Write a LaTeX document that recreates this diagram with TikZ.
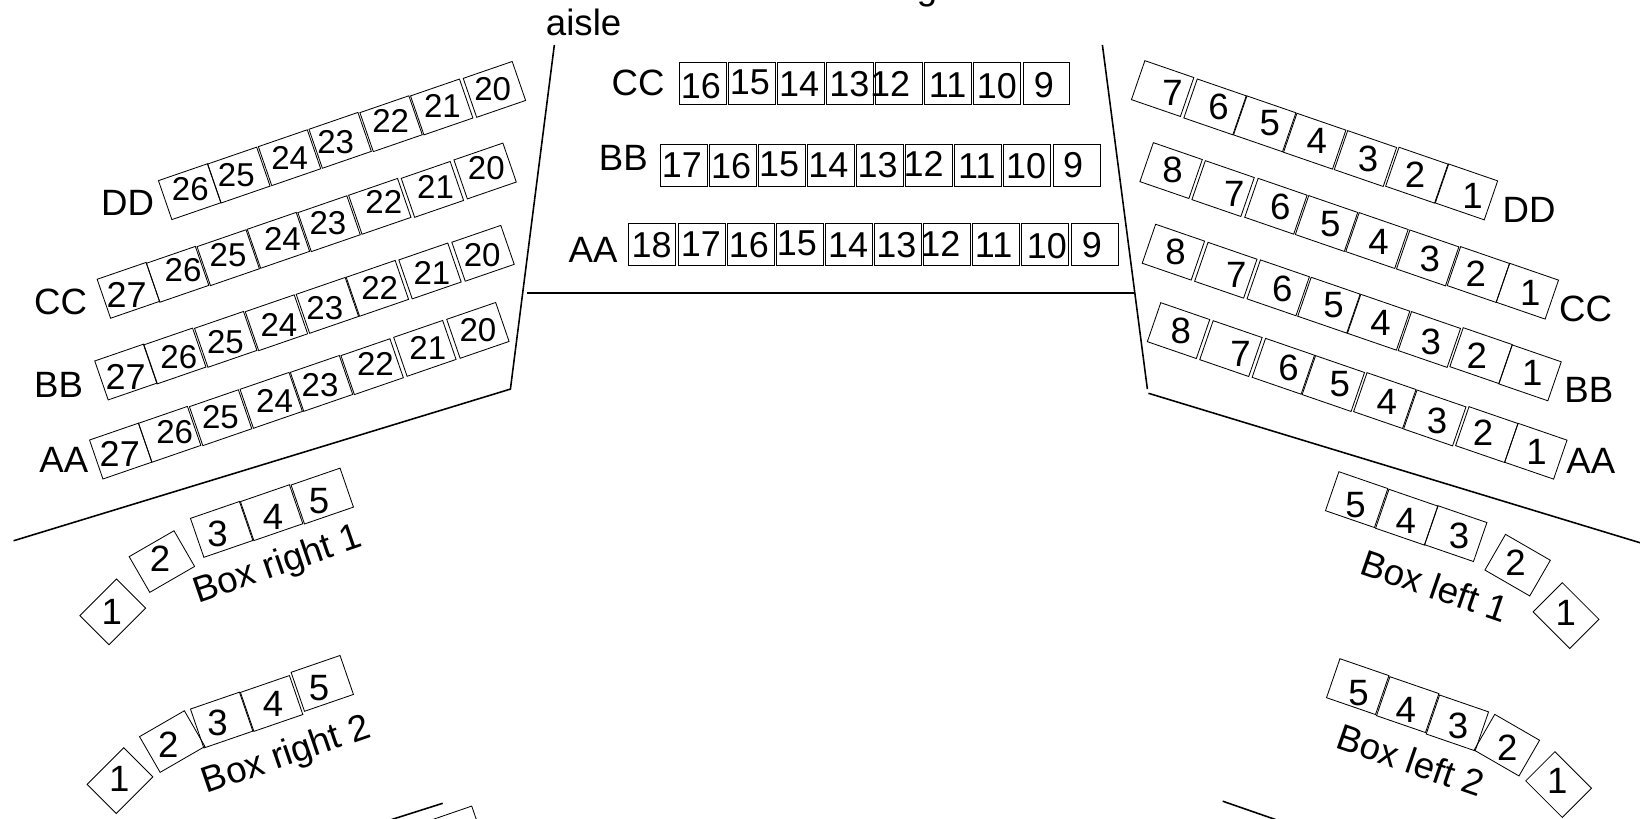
\documentclass[tikz,border=0pt]{standalone}
\usepackage{fontspec}
\setmainfont{Liberation Sans}
\def\numsize{17.2pt}
\tikzset{
  x=0.5pt,y=-0.5pt,
  seatbox/.style={draw=black,line width=0.4pt,minimum width=24.75pt,minimum height=19.7pt,inner sep=0pt,outer sep=0pt,anchor=north west},
  seatnum/.style={inner sep=0pt,font=\fontsize{\numsize}{18pt}\selectfont},
  rowlabel/.style={inner sep=0pt,font=\fontsize{17.5pt}{18pt}\selectfont},
  wall/.style={line width=0.75pt,draw=black},
}
% name, angle, x, y of top-left corner, label, label x, label y
\newcommand{\seatat}[7]{%
  \node[seatbox,rotate=#2] (#1) at (#3,#4) {};
  \node[seatnum] (#1t) at (#6,#7) {#5};
}
\begin{document}
\begin{tikzpicture}
\useasboundingbox (0,0) rectangle (1568,783);
\clip (0,0) rectangle (1568,783);
% walls
\coordinate (wa) at (530,43); \coordinate (wb) at (488,372); \coordinate (wc) at (13,517);
\draw[wall] (wa) -- (wb) -- (wc);
\coordinate (wd) at (1054,43); \coordinate (we) at (1097,372);
\draw[wall] (wd) -- (we);
\coordinate (wf) at (1098,376); \coordinate (wg) at (1570,519.5);
\draw[wall] (wf) -- (wg);
\coordinate (wh) at (504,280); \coordinate (wi) at (1084,280);
\draw[wall] (wh) -- (wi);
\coordinate (wj) at (423.3,768); \coordinate (wk) at (373,784);
\draw[wall] (wj) -- (wk);
\coordinate (wl) at (1169,766); \coordinate (wm) at (1222,784.4);
\draw[wall] (wl) -- (wm);
% clipped top heading and aisle
\node[rowlabel,anchor=base east] (head) at (896.5,-0.5) {Box seating};
\node[rowlabel] (aisle) at (558,21) {aisle};
% centre block
\node[rowlabel] (cCC) at (610,79) {CC};
\node[rowlabel] (cBB) at (596,151) {BB};
\node[rowlabel] (cAA) at (567,239) {AA};
\tikzset{seatbox/.append style={minimum width=22.45pt,minimum height=19.9pt}}
\seatat{cc16}{0}{649.6}{59.6}{16}{670}{82}
\seatat{cc15}{0}{696.4}{59.6}{15}{717}{79}
\seatat{cc14}{0}{743.2}{59.6}{14}{764}{80}
\seatat{cc13}{0}{790}{59.6}{13}{812}{80}
\seatat{cc12}{0}{836.8}{59.6}{12}{851}{80}
\seatat{cc11}{0}{883.6}{59.6}{11}{906}{81}
\seatat{cc10}{0}{930.4}{59.6}{10}{953}{82}
\seatat{cc9}{0}{978}{59.6}{9}{998}{81}
\seatat{bb17}{0}{631.3}{138}{17}{652}{158}
\seatat{bb16}{0}{678}{138}{16}{699}{159}
\seatat{bb15}{0}{725.3}{138}{15}{745}{157}
\seatat{bb14}{0}{772}{138}{14}{792}{158}
\seatat{bb13}{0}{818.9}{138}{13}{839}{158}
\seatat{bb12}{0}{865.7}{138}{12}{883}{157}
\seatat{bb11}{0}{912.5}{138}{11}{934}{159}
\seatat{bb10}{0}{959.7}{138}{10}{981}{159}
\seatat{bb9}{0}{1006.8}{138}{9}{1026}{158}
\seatat{aa18}{0}{600.9}{213.5}{18}{623}{234}
\seatat{aa17}{0}{648.4}{213.5}{17}{670}{233}
\seatat{aa16}{0}{695.2}{213.5}{16}{716}{234}
\seatat{aa15}{0}{742.4}{213.5}{15}{762}{233}
\seatat{aa14}{0}{789.2}{213.5}{14}{811}{234}
\seatat{aa13}{0}{836}{213.5}{13}{857}{234}
\seatat{aa12}{0}{882.8}{213.5}{12}{899}{233}
\seatat{aa11}{0}{929.6}{213.5}{11}{950}{234}
\seatat{aa10}{0}{976.8}{213.5}{10}{1001}{235}
\seatat{aa9}{0}{1024}{213.5}{9}{1044}{234}
\tikzset{seatbox/.append style={minimum width=24.75pt,minimum height=19.7pt}}
% left block
\def\numsize{15.8pt}
\node[rowlabel] (lDD) at (122,194) {DD};
\seatat{ld26}{19}{151.5}{172.7}{26}{182}{181}
\seatat{ld25}{19}{198.6}{156.8}{25}{226}{167}
\seatat{ld24}{19}{247}{140.2}{24}{277}{151}
\seatat{ld23}{19}{295.4}{123.6}{23}{321}{135.5}
\seatat{ld22}{19}{344.1}{107.7}{22}{373.5}{116}
\seatat{ld21}{19}{392.5}{91.7}{21}{423}{101}
\seatat{ld20}{19}{442.9}{74.9}{20}{471}{85}
\node[rowlabel] (lCC) at (58,289) {CC};
\def\numsize{17.2pt}
\seatat{lc27}{19}{92.9}{267}{27}{121}{282}
\def\numsize{15.8pt}
\seatat{lc26}{19}{140}{251.7}{26}{175}{258.5}
\seatat{lc25}{19}{188.4}{235.8}{25}{218}{244}
\seatat{lc24}{19}{236.4}{219.2}{24}{270}{228.5}
\seatat{lc23}{19}{284.8}{203.3}{23}{313.5}{213.5}
\seatat{lc22}{19}{333.3}{186.7}{22}{367}{193}
\seatat{lc21}{19}{383.6}{170.5}{21}{416.5}{179}
\seatat{lc20}{19}{434}{152.9}{20}{465}{161}
\node[rowlabel] (lBB) at (56,368) {BB};
\def\numsize{17.2pt}
\seatat{lb27}{19}{90.6}{345.1}{27}{120}{360}
\def\numsize{15.8pt}
\seatat{lb26}{19}{137.3}{329.8}{26}{171}{341}
\seatat{lb25}{19}{186}{313.9}{25}{215.5}{326.7}
\seatat{lb24}{19}{234.5}{298}{24}{266.7}{310.7}
\seatat{lb23}{19}{283.2}{281.4}{23}{310.5}{295}
\seatat{lb22}{19}{331}{265.1}{22}{363}{275.5}
\seatat{lb21}{19}{381.3}{248.5}{21}{413}{261}
\seatat{lb20}{19}{432}{231.6}{20}{461}{243.5}
\node[rowlabel] (lAA) at (61,440) {AA};
\def\numsize{17.2pt}
\seatat{la27}{19}{85.6}{420.7}{27}{114.5}{434}
\def\numsize{15.8pt}
\seatat{la26}{19}{132.4}{404.7}{26}{167}{412.7}
\seatat{la25}{19}{181.1}{388.8}{25}{210.8}{398.5}
\seatat{la24}{19}{229.5}{372.2}{24}{262.5}{383}
\seatat{la23}{19}{277.6}{356}{23}{306}{368}
\seatat{la22}{19}{326}{340}{22}{359}{348}
\seatat{la21}{19}{376.4}{322.5}{21}{409}{333}
\seatat{la20}{19}{427.1}{305.3}{20}{457}{316}
% right block
\def\numsize{17.5pt}
\node[rowlabel] (rDD) at (1462,201) {DD};
\seatat{rd7}{-19}{1094.6}{58}{7}{1121}{89}
\seatat{rd6}{-19}{1144.7}{75.5}{6}{1165}{102}
\seatat{rd5}{-19}{1192.2}{91.7}{5}{1214}{118}
\seatat{rd4}{-19}{1240}{108.3}{4}{1259}{135}
\seatat{rd3}{-19}{1288.5}{124.9}{3}{1308}{152}
\seatat{rd2}{-19}{1337.6}{140.8}{2}{1353}{167}
\seatat{rd1}{-19}{1385.1}{156.8}{1}{1408}{187}
\node[rowlabel] (rCC) at (1516,295) {CC};
\seatat{rc8}{-19}{1102.7}{136.4}{8}{1121}{162}
\seatat{rc7}{-19}{1152.4}{153.6}{7}{1180}{185}
\seatat{rc6}{-19}{1202.9}{170.5}{6}{1224}{198}
\seatat{rc5}{-19}{1251.3}{187}{5}{1272}{214}
\seatat{rc4}{-19}{1299.5}{203.3}{4}{1318}{231}
\seatat{rc3}{-19}{1348}{219.9}{3}{1367}{248}
\seatat{rc2}{-19}{1396.5}{235.8}{2}{1411}{262}
\seatat{rc1}{-19}{1443.3}{251.7}{1}{1463}{280}
\node[rowlabel] (rBB) at (1519,373) {BB};
\seatat{rb8}{-19}{1104.9}{214.4}{8}{1124}{241}
\seatat{rb7}{-19}{1155}{231.7}{7}{1182}{263}
\seatat{rb6}{-19}{1205.1}{248.5}{6}{1226}{276}
\seatat{rb5}{-19}{1253.6}{265.1}{5}{1275}{292}
\seatat{rb4}{-19}{1301.1}{281.4}{4}{1320}{309}
\seatat{rb3}{-19}{1349.6}{297.9}{3}{1368}{327}
\seatat{rb2}{-19}{1399}{313.3}{2}{1412}{340}
\seatat{rb1}{-19}{1445.9}{329.8}{1}{1465}{357}
\node[rowlabel] (rAA) at (1521,441) {AA};
\seatat{ra8}{-19}{1109.8}{289.4}{8}{1129}{316}
\seatat{ra7}{-19}{1159.9}{306.6}{7}{1186}{338}
\seatat{ra6}{-19}{1210}{323.5}{6}{1232}{352}
\seatat{ra5}{-19}{1257.8}{340}{5}{1281}{367}
\seatat{ra4}{-19}{1307}{356.3}{4}{1326}{384}
\seatat{ra3}{-19}{1354.8}{372.9}{3}{1374}{402}
\seatat{ra2}{-19}{1404.5}{388.8}{2}{1418}{414}
\seatat{ra1}{-19}{1451.4}{404.7}{1}{1469}{432}
% box right 1
\seatat{bra3}{19}{182.1}{495.6}{3}{208}{510}
\seatat{bra4}{19}{229.9}{479.6}{4}{261}{494}
\seatat{bra5}{19}{278.3}{463.7}{5}{305}{479}
\seatat{bra2}{30}{123.5}{532.2}{2}{153}{534}
\seatat{bra1}{45}{76.4}{588.6}{1}{107}{585}
\node[rowlabel,rotate=19] (bral) at (266,541) {Box right 1};
% box right 2
\seatat{brb3}{19}{182.1}{677.9}{3}{208}{691}
\seatat{brb4}{19}{229.9}{662}{4}{261}{673}
\seatat{brb5}{19}{278.3}{642.8}{5}{305}{658}
\seatat{brb2}{30}{133.4}{704.3}{2}{161}{712}
\seatat{brb1}{45}{83.3}{749.9}{1}{114}{745}
\node[rowlabel,rotate=19] (brbl) at (274,723) {Box right 2};
\node[seatbox,rotate=19] (brc) at (404.2,786.8) {};
% box left 1
\seatat{bla5}{-19}{1280.1}{451}{5}{1296}{483}
\seatat{bla4}{-19}{1328}{467.8}{4}{1344}{498}
\seatat{bla3}{-19}{1374.8}{483.5}{3}{1395}{512}
\seatat{bla2}{-30}{1439.4}{510.9}{2}{1449}{538}
\seatat{bla1}{-45}{1493.7}{557.1}{1}{1497}{586}
\node[rowlabel,rotate=-19] (blal) at (1372,560) {Box left 1};
% box left 2
\seatat{blb5}{-19}{1281.1}{629.8}{5}{1299}{663}
\seatat{blb4}{-19}{1328.9}{647}{4}{1344}{679}
\seatat{blb3}{-19}{1376.4}{664.5}{3}{1394}{694}
\seatat{blb2}{-30}{1429.1}{683}{2}{1441}{715}
\seatat{blb1}{-45}{1486.6}{718.7}{1}{1489}{747}
\node[rowlabel,rotate=-19] (blbl) at (1349,727) {Box left 2};
\end{tikzpicture}
\end{document}
